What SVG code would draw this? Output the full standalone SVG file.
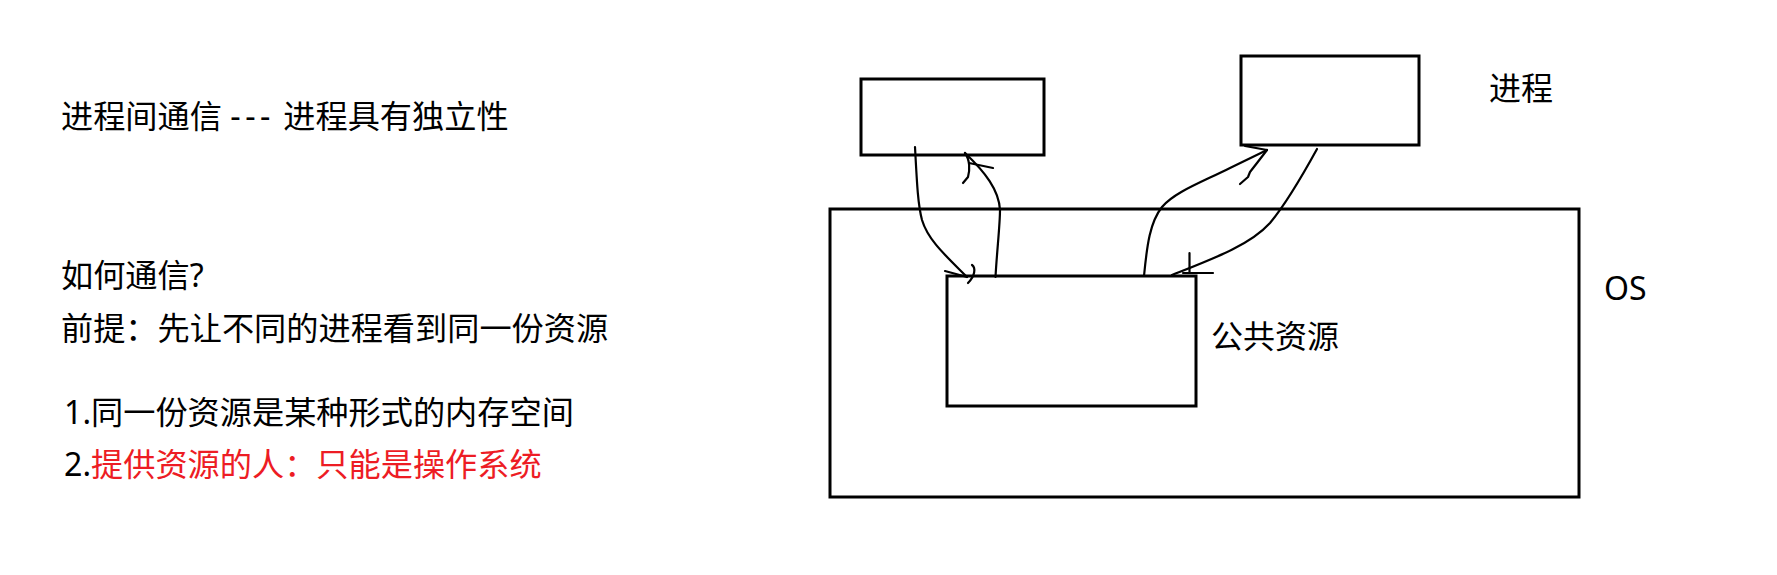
<svg xmlns="http://www.w3.org/2000/svg" width="1777" height="575" viewBox="0 0 1777 575">
  <style>
    .box { fill: none; stroke: #000; stroke-width: 3; }
    .conn { fill: none; stroke: #000; stroke-width: 2.2; stroke-linecap: round; stroke-linejoin: round; }
    .note { font-family: "Noto Sans", "Noto Sans CJK SC", sans-serif; font-size: 32.2px; fill: #000; }
    .label { font-family: "Noto Sans", "Noto Sans CJK SC", sans-serif; font-size: 32px; fill: #000; }
    .red { fill: #ed1c24; }
  </style>
  <rect x="0" y="0" width="1777" height="575" fill="#fff"/>

  <g id="notes">
    <text class="note" x="61" y="128">进程间通信 <tspan letter-spacing="4.5">---</tspan> 进程具有独立性</text>
    <text class="note" x="61" y="287">如何通信?</text>
    <text class="note" x="61" y="340">前提：先让不同的进程看到同一份资源</text>
    <text class="note" x="64" y="424">1.同一份资源是某种形式的内存空间</text>
    <text class="note" x="64" y="476">2.<tspan class="red">提供资源的人：只能是操作系统</tspan></text>
  </g>

  <g id="os">
    <rect class="box" x="830" y="209" width="749" height="288"/>
    <text class="label" x="1604" y="300">OS</text>
  </g>

  <g id="shared-resource">
    <rect class="box" x="947" y="276" width="249" height="130"/>
    <text class="label" x="1211" y="348">公共资源</text>
  </g>

  <g id="process-left">
    <rect class="box" x="861" y="79" width="183" height="76"/>
  </g>

  <g id="process-right">
    <rect class="box" x="1241" y="56" width="178" height="89"/>
    <text class="label" x="1489" y="100">进程</text>
  </g>

  <g id="connectors">
    <!-- left process -> shared resource -->
    <path class="conn" d="M915,147 C917,185 918,205 922,220 C928,240 945,255 967,277"/>
    <path class="conn" d="M945,271 L967,277"/>
    <path class="conn" d="M972,265 C976,268 975,276 968,283"/>
    <!-- shared resource -> left process -->
    <path class="conn" d="M995.5,277 C997,250 1000,225 1000,210 C999,190 985,172 965,153"/>
    <path class="conn" d="M969,163 L993,168"/>
    <path class="conn" d="M965,153 C970,160 970,170 968,177 L963,183"/>
    <!-- shared resource -> right process -->
    <path class="conn" d="M1144,276 C1147,245 1150,222 1162,207 C1175,192 1200,183 1230,168 L1267,150"/>
    <path class="conn" d="M1245,146 L1267,150"/>
    <path class="conn" d="M1267,150 L1257,163 L1250,172 L1248,177 L1240,184"/>
    <!-- right process -> shared resource -->
    <path class="conn" d="M1317,149 C1300,180 1285,205 1270,223 C1250,245 1215,258 1172,275"/>
    <path class="conn" d="M1189.5,253 L1189.5,273"/>
    <path class="conn" d="M1183,273 L1213,273"/>
  </g>
</svg>
